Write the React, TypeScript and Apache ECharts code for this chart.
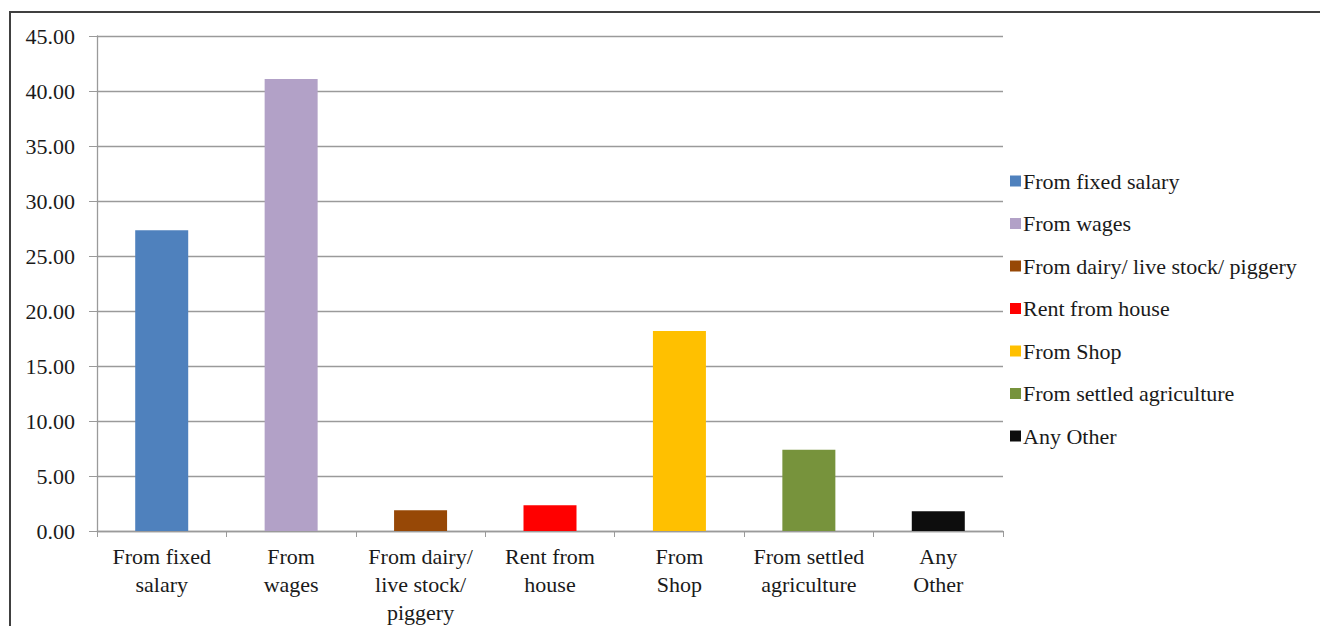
import React, { useEffect, useRef } from "react";
import * as echarts from "echarts";

const categories = [
  "From fixed\nsalary",
  "From\nwages",
  "From dairy/\nlive stock/\npiggery",
  "Rent from\nhouse",
  "From\nShop",
  "From settled\nagriculture",
  "Any\nOther",
];
const legendNames = [
  "From fixed salary",
  "From wages",
  "From dairy/ live stock/ piggery",
  "Rent from house",
  "From Shop",
  "From settled agriculture",
  "Any Other",
];
const values = [27.34, 41.1, 1.88, 2.33, 18.18, 7.38, 1.79];
const colors = ["#4F81BD", "#B2A1C7", "#974806", "#FF0000", "#FFC000", "#77933C", "#0D0D0D"];
const yTicks = { min: 0, max: 45, interval: 5 };

const FONT = "'Liberation Serif', 'Times New Roman', serif";

export default function App() {
  const ref = useRef<HTMLDivElement>(null);
  useEffect(() => {
    if (!ref.current) return;
    const chart = echarts.init(ref.current, undefined, { renderer: "svg" });
    const series = legendNames.map((name, i) => ({
      name,
      type: "bar",
      stack: "all",
      barWidth: 53,
      itemStyle: { color: colors[i] },
      data: values.map((v, j) => (j === i ? v : "-")),
    }));
    chart.setOption({
      animation: false,
      backgroundColor: "#ffffff",
      textStyle: { fontFamily: FONT },
      grid: { left: 97, right: 317, top: 36, bottom: 94, containLabel: false },
      legend: {
        orient: "vertical",
        left: 1005,
        top: 165,
        itemWidth: 11,
        itemHeight: 11,
        itemGap: 20.5,
        icon: "rect",
        data: legendNames,
        textStyle: { fontFamily: FONT, fontSize: 22, color: "#1a1a1a", lineHeight: 22, padding: [0, 0, 0, -3] },
      },
      xAxis: {
        type: "category",
        data: categories,
        axisLine: { show: true, lineStyle: { color: "#9a9a9a", width: 1.3 } },
        axisTick: { show: true, length: 6, lineStyle: { color: "#9a9a9a" } },
        axisLabel: {
          interval: 0,
          margin: 11,
          fontFamily: FONT,
          fontSize: 22,
          lineHeight: 28,
          color: "#1a1a1a",
        },
      },
      yAxis: {
        type: "value",
        min: yTicks.min,
        max: yTicks.max,
        interval: yTicks.interval,
        axisLine: { show: true, lineStyle: { color: "#9a9a9a", width: 1.3 } },
        axisTick: { show: true, length: 8, lineStyle: { color: "#9a9a9a" } },
        splitLine: { show: true, lineStyle: { color: "#9a9a9a", width: 1.3 } },
        axisLabel: {
          margin: 22,
          fontFamily: FONT,
          fontSize: 22,
          color: "#1a1a1a",
          formatter: (v: number) => v.toFixed(2),
        },
      },
      graphic: [
        {
          type: "rect",
          shape: { x: 10, y: 12, width: 1330, height: 640 },
          style: { fill: "none", stroke: "#404040", lineWidth: 2 },
          silent: true,
        },
      ],
      series,
    });
    return () => chart.dispose();
  }, []);
  return (
    <div
      ref={ref}
      style={{ position: "fixed", left: 0, top: 0, width: 1320, height: 626, background: "#fff" }}
    />
  );
}
